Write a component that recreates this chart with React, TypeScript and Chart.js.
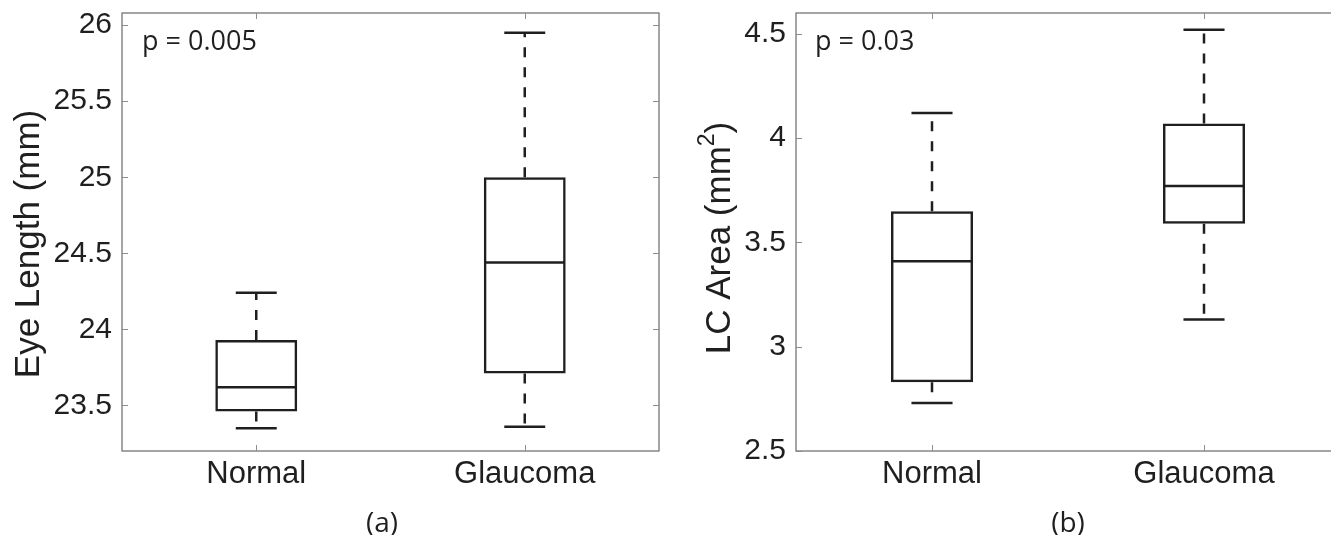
import React, { useEffect, useRef } from 'react';
import { Chart, registerables } from 'chart.js';

Chart.register(...registerables);

const categories = ['Normal', 'Glaucoma'];

// Panel (a): eye length (mm)
const eyeMin = [23.35, 23.36];
const eyeQ1 = [23.46, 23.71];
const eyeMedian = [23.62, 24.44];
const eyeQ3 = [23.93, 25.0];
const eyeMax = [24.24, 25.95];
const eyeTicks = [23.5, 24, 24.5, 25, 25.5, 26];
const eyeRange = [23.2, 26.08];

// Panel (b): LC area (mm^2)
const lcMin = [2.73, 3.13];
const lcQ1 = [2.83, 3.59];
const lcMedian = [3.41, 3.77];
const lcQ3 = [3.65, 4.07];
const lcMax = [4.12, 4.52];
const lcTicks = [2.5, 3, 3.5, 4, 4.5];
const lcRange = [2.5, 4.6];

const SANS = '"Liberation Sans", Arial, Helvetica, sans-serif';
const HUMANIST = '"Open Sans", "Noto Sans", sans-serif';
const INK = '#1f1f1f';

type TitlePart = { text: string; sup?: boolean };

interface PanelProps {
  left: number;
  width: number;
  min: number[];
  q1: number[];
  median: number[];
  q3: number[];
  max: number[];
  ticks: number[];
  range: number[];
  titleParts: TitlePart[];
  titleBaselineX: number;
  titleCenterY: number;
  pText: string;
  pOffsetX: number;
  caption: string;
  captionX: number;
  axisWidth: number;
  rightPad: number;
  barPct: number;
}

function Panel(p: PanelProps) {
  const ref = useRef<HTMLCanvasElement>(null);

  useEffect(() => {
    const canvas = ref.current;
    if (!canvas) return;

    const extras = {
      id: 'boxplotExtras',
      afterDatasetsDraw(chart: any) {
        const { ctx, chartArea: a } = chart;
        const xs = chart.scales.x;
        const ys = chart.scales.y;
        ctx.save();
        // axes frame
        ctx.strokeStyle = '#6a6a6a';
        ctx.lineWidth = 1.2;
        ctx.strokeRect(a.left, a.top, a.right - a.left, a.bottom - a.top);
        // inward tick marks
        ctx.strokeStyle = '#8c8c8c';
        ctx.lineWidth = 1;
        ctx.beginPath();
        ys.ticks.forEach((t: any) => {
          const py = Math.round(ys.getPixelForValue(t.value)) + 0.5;
          ctx.moveTo(a.left, py);
          ctx.lineTo(a.left + 6, py);
          ctx.moveTo(a.right, py);
          ctx.lineTo(a.right - 6, py);
        });
        xs.ticks.forEach((_t: any, i: number) => {
          const px = Math.round(xs.getPixelForTick(i)) + 0.5;
          ctx.moveTo(px, a.bottom);
          ctx.lineTo(px, a.bottom - 6);
          ctx.moveTo(px, a.top);
          ctx.lineTo(px, a.top + 6);
        });
        ctx.stroke();

        // medians, whiskers, caps
        const meta = chart.getDatasetMeta(0);
        ctx.strokeStyle = INK;
        ctx.lineWidth = 2.5;
        meta.data.forEach((el: any, i: number) => {
          const cx = el.x;
          const w = el.width;
          const yMed = ys.getPixelForValue(p.median[i]);
          const yQ1 = ys.getPixelForValue(p.q1[i]);
          const yQ3 = ys.getPixelForValue(p.q3[i]);
          const yMin = ys.getPixelForValue(p.min[i]);
          const yMax = ys.getPixelForValue(p.max[i]);

          ctx.setLineDash([]);
          ctx.beginPath();
          ctx.moveTo(cx - w / 2 + 1, yMed);
          ctx.lineTo(cx + w / 2 - 1, yMed);
          ctx.moveTo(cx - w / 4, yMax);
          ctx.lineTo(cx + w / 4, yMax);
          ctx.moveTo(cx - w / 4, yMin);
          ctx.lineTo(cx + w / 4, yMin);
          ctx.stroke();

          ctx.setLineDash([10, 10]);
          ctx.beginPath();
          ctx.moveTo(cx, yQ3);
          ctx.lineTo(cx, yMax);
          ctx.moveTo(cx, yQ1);
          ctx.lineTo(cx, yMin);
          ctx.stroke();
        });
        ctx.restore();
      },
      afterDraw(chart: any) {
        const { ctx, chartArea: a } = chart;
        ctx.save();
        ctx.fillStyle = INK;
        // p-value annotation
        ctx.font = `27px ${HUMANIST}`;
        ctx.textAlign = 'left';
        ctx.textBaseline = 'alphabetic';
        ctx.fillText(p.pText, a.left + p.pOffsetX, a.top + 37);
        // caption
        ctx.font = `28px ${HUMANIST}`;
        ctx.textAlign = 'center';
        ctx.fillText(p.caption, p.captionX, 532);

        // y-axis title (rotated, with optional superscript)
        const mainFont = `35px ${SANS}`;
        const supFont = `23px ${SANS}`;
        let total = 0;
        p.titleParts.forEach((part) => {
          ctx.font = part.sup ? supFont : mainFont;
          total += ctx.measureText(part.text).width;
        });
        ctx.translate(p.titleBaselineX, p.titleCenterY);
        ctx.rotate(-Math.PI / 2);
        ctx.textAlign = 'left';
        ctx.textBaseline = 'alphabetic';
        let x = -total / 2;
        p.titleParts.forEach((part) => {
          ctx.font = part.sup ? supFont : mainFont;
          ctx.fillText(part.text, x, part.sup ? -16 : 0);
          x += ctx.measureText(part.text).width;
        });
        ctx.restore();
      },
    };

    const chart = new Chart(canvas, {
      type: 'bar',
      data: {
        labels: categories,
        datasets: [
          {
            data: categories.map((_c, i) => [p.q1[i], p.q3[i]]) as any,
            backgroundColor: 'rgba(0,0,0,0)',
            borderColor: INK,
            borderWidth: 2.5,
            borderSkipped: false,
            barPercentage: p.barPct,
            categoryPercentage: 1,
          },
        ],
      },
      options: {
        responsive: false,
        animation: false,
        devicePixelRatio: 1,
        events: [],
        layout: { padding: { top: 13, left: 0, right: p.rightPad, bottom: 0 } },
        plugins: {
          legend: { display: false },
          tooltip: { enabled: false },
          title: { display: false },
        },
        scales: {
          x: {
            type: 'category',
            offset: true,
            grid: { display: false, drawTicks: false },
            border: { display: false },
            ticks: {
              font: { family: SANS, size: 31 },
              color: INK,
              padding: 5,
              maxRotation: 0,
              autoSkip: false,
            },
            afterFit: (s: any) => {
              s.height = 84;
              s.paddingLeft = 0;
              s.paddingRight = 0;
            },
          },
          y: {
            type: 'linear',
            min: p.range[0],
            max: p.range[1],
            grid: { display: false, drawTicks: false },
            border: { display: false },
            afterBuildTicks: (s: any) => {
              s.ticks = p.ticks.map((v) => ({ value: v }));
            },
            ticks: {
              font: { family: SANS, size: 30 },
              color: INK,
              padding: 10,
              callback: (v: any) => String(v),
            },
            afterFit: (s: any) => {
              s.width = p.axisWidth;
              s.paddingTop = 0;
              s.paddingBottom = 0;
            },
          },
        },
      },
      plugins: [extras],
    });

    return () => chart.destroy();
  }, []);

  return (
    <canvas
      ref={ref}
      width={p.width}
      height={535}
      style={{ position: 'absolute', left: p.left, top: 0, width: p.width, height: 535 }}
    />
  );
}

export default function App() {
  return (
    <div
      style={{
        position: 'fixed',
        left: 0,
        top: 0,
        width: 1331,
        height: 535,
        overflow: 'hidden',
        background: '#ffffff',
      }}
    >
      <Panel
        left={0}
        width={680}
        min={eyeMin}
        q1={eyeQ1}
        median={eyeMedian}
        q3={eyeQ3}
        max={eyeMax}
        ticks={eyeTicks}
        range={eyeRange}
        titleParts={[{ text: 'Eye Length (mm)' }]}
        titleBaselineX={38.5}
        titleCenterY={244}
        pText="p = 0.005"
        pOffsetX={20}
        caption="(a)"
        captionX={382}
        axisWidth={122}
        rightPad={21}
        barPct={0.305}
      />
      <Panel
        left={680}
        width={680}
        min={lcMin}
        q1={lcQ1}
        median={lcMedian}
        q3={lcQ3}
        max={lcMax}
        ticks={lcTicks}
        range={lcRange}
        titleParts={[{ text: 'LC Area (mm' }, { text: '2', sup: true }, { text: ')' }]}
        titleBaselineX={50}
        titleCenterY={238}
        pText="p = 0.03"
        pOffsetX={19}
        caption="(b)"
        captionX={388}
        axisWidth={116}
        rightPad={20}
        barPct={0.302}
      />
    </div>
  );
}
